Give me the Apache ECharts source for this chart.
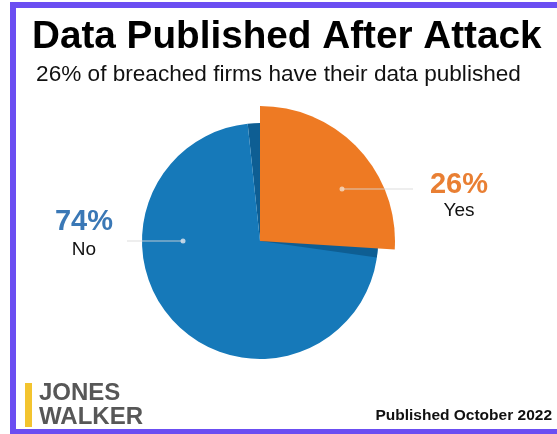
<!DOCTYPE html>
<html>
<head>
<meta charset="utf-8">
<style>
  html, body { margin: 0; padding: 0; background: #fff; }
  #chart { width: 557px; height: 434px; }
</style>
<script src="https://cdn.jsdelivr.net/npm/echarts@6/dist/echarts.min.js"></script>
</head>
<body>
<div id="chart"></div>
<script>
// data
const categories = ['Yes', 'No'];
const shares = [26, 74];
const sliceColors = ['#ee7a23', '#1679b9'];
const shadowColor = '#0e5e93';

const FONT = 'Liberation Sans, Arial, sans-serif';
const cx = 260, cy = 241;

const chart = echarts.init(document.getElementById('chart'), null, { renderer: 'canvas' });

function pieData(yesStyle, noStyle, labels) {
  return categories.map((name, i) => ({
    name: name,
    value: shares[i],
    itemStyle: i === 0 ? yesStyle : noStyle,
    label: { show: labels.indexOf(name) >= 0 },
    labelLine: { show: labels.indexOf(name) >= 0 }
  }));
}

// label anchor positions (text block top-center and line start/end)
const labelPos = {
  No: { x: 84, y: 205, line: [[cx - 77, cy], [cx - 105, cy], [cx - 133, cy]] },
  Yes: { x: 459, y: 170, line: [[cx + 82, 189], [cx + 118, 189], [cx + 153, 189]] }
};
const labelColors = { No: '#3a78b6', Yes: '#e97f33' };

const baseSeries = {
  type: 'pie',
  center: [cx, cy],
  silent: true,
  animation: false,
  clockwise: true,
  label: { show: false },
  labelLine: { show: false },
  itemStyle: { borderWidth: 0 },
  emphasis: { disabled: true }
};

chart.setOption({
  backgroundColor: '#ffffff',
  title: [
    {
      text: 'Data Published After Attack',
      left: 27, top: 13,
      textStyle: { fontFamily: FONT, fontSize: 38.7, fontWeight: 'bold', color: '#000' }
    },
    {
      text: '26% of breached firms have their data published',
      left: 'center', top: 58,
      textStyle: { fontFamily: FONT, fontSize: 22.6, fontWeight: 'normal', color: '#111' }
    }
  ],
  series: [
    Object.assign({}, baseSeries, {
      name: 'base',
      radius: 118,
      startAngle: 96,
      z: 1,
      data: pieData({ color: shadowColor }, { color: sliceColors[1] }, [])
    }),
    Object.assign({}, baseSeries, {
      name: 'shadow',
      radius: 118,
      startAngle: 85.6,
      z: 2,
      data: pieData({ color: shadowColor }, { color: 'transparent' }, [])
    }),
    Object.assign({}, baseSeries, {
      name: 'published',
      radius: 135,
      startAngle: 90,
      z: 3,
      data: pieData({ color: sliceColors[0] }, { color: 'transparent' }, [])
    }),
    // label carrier drawn above the slices so the leader lines show inside them
    Object.assign({}, baseSeries, {
      name: 'labels',
      radius: 135,
      startAngle: 90,
      z: 10,
      data: pieData({ color: 'transparent' }, { color: 'transparent' }, categories),
      label: {
        position: 'outside',
        formatter: function (p) {
          return '{' + p.name + '|' + p.value + '%}\n{n|' + p.name + '}';
        },
        rich: {
          No: { fontFamily: FONT, fontSize: 29, fontWeight: 'bold', color: labelColors.No, lineHeight: 34 },
          Yes: { fontFamily: FONT, fontSize: 29, fontWeight: 'bold', color: labelColors.Yes, lineHeight: 30 },
          n: { fontFamily: FONT, fontSize: 19, color: '#111', lineHeight: 22 }
        }
      },
      labelLine: { show: true, smooth: false, lineStyle: { color: 'rgba(215,215,215,0.85)', width: 1.2 } },
      labelLayout: function (params) {
        const p = labelPos[categories[params.dataIndex]];
        return {
          x: p.x, y: p.y,
          align: 'center', verticalAlign: 'top',
          labelLinePoints: p.line
        };
      }
    })
  ],
  graphic: [
    {
      type: 'rect', z: 100, silent: true,
      shape: { x: 13, y: 5, width: 600, height: 427 },
      style: { fill: 'none', stroke: '#6b4ef2', lineWidth: 6 }
    },
    {
      type: 'circle', z: 100, silent: true,
      shape: { cx: labelPos.No.line[0][0], cy: labelPos.No.line[0][1], r: 2.5 },
      style: { fill: 'rgba(215,225,235,0.85)' }
    },
    {
      type: 'circle', z: 100, silent: true,
      shape: { cx: labelPos.Yes.line[0][0], cy: labelPos.Yes.line[0][1], r: 2.5 },
      style: { fill: 'rgba(245,215,190,0.85)' }
    },
    {
      type: 'rect', silent: true,
      shape: { x: 25, y: 383, width: 7, height: 44 },
      style: { fill: '#f3c42f' }
    },
    {
      type: 'text', silent: true, left: 39, top: 381,
      style: { text: 'JONES', font: 'bold 24px ' + FONT, fill: '#575757' }
    },
    {
      type: 'text', silent: true, left: 39, top: 405,
      style: { text: 'WALKER', font: 'bold 24px ' + FONT, fill: '#575757' }
    },
    {
      type: 'text', silent: true, right: 5, top: 408,
      style: { text: 'Published October 2022', font: 'bold 15.5px ' + FONT, fill: '#111' }
    }
  ]
});
</script>
</body>
</html>
